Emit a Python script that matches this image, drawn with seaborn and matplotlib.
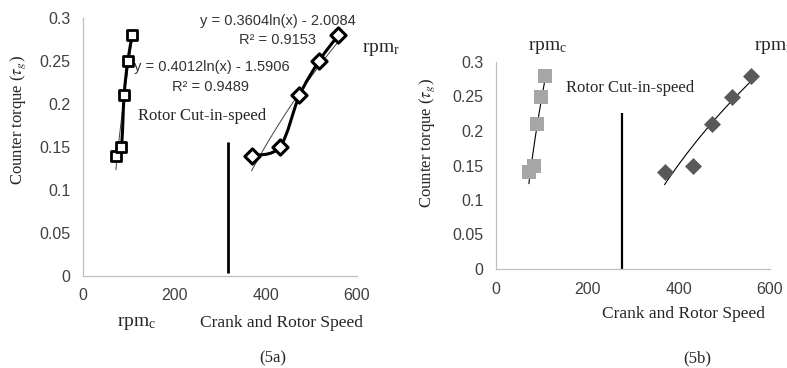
import numpy as np
import matplotlib
matplotlib.use("Agg")
import matplotlib.pyplot as plt
from matplotlib.path import Path
from matplotlib.patches import PathPatch
import seaborn as sns

# values
crank_rpm = [72, 84, 90, 98, 108]
rotor_rpm = [369, 431, 474, 517, 559]
torque = [0.14, 0.15, 0.21, 0.25, 0.28]

cutin_a = 318          # rotor cut-in speed, panel 5a
cutin_a_top = 0.156
cutin_b = 276          # panel 5b
cutin_b_top = 0.226

eq_rotor = "y = 0.3604ln(x) - 2.0084"
r2_rotor = "R² = 0.9153"
eq_crank = "y = 0.4012ln(x) - 1.5906"
r2_crank = "R² = 0.9489"

xticks = [0, 200, 400, 600]
yticks = [0, 0.05, 0.1, 0.15, 0.2, 0.25, 0.3]

sns.set_style("white")
plt.rcParams["font.family"] = ["Liberation Serif", "DejaVu Serif"]
plt.rcParams["mathtext.fontset"] = "stix"

W, H = 787, 368
fig = plt.figure(figsize=(W / 100, H / 100), dpi=100)

def fx(px):
    return px / W

def fy(py):
    return 1 - py / H

ax_a = fig.add_axes([fx(83), fy(276), fx(357 - 83), (276 - 18) / H])
ax_b = fig.add_axes([fx(496), fy(269), fx(770 - 496), (269 - 62) / H])

tick_font = {"family": "Liberation Sans", "size": 11.5, "color": "#404040"}

for ax in (ax_a, ax_b):
    ax.set_xticks(xticks)
    ax.set_yticks(yticks)
    ax.set_xticklabels([str(t) for t in xticks], fontdict=tick_font)
    ax.set_yticklabels([f"{t:g}" for t in yticks], fontdict=tick_font)
    ax.tick_params(direction="out", length=4, width=0.8, color="#bfbfbf", pad=5)
    for s in ["top", "right"]:
        ax.spines[s].set_visible(False)
    for s in ["left", "bottom"]:
        ax.spines[s].set_color("#bfbfbf")
        ax.spines[s].set_linewidth(0.9)


def smooth_path(xs, ys):
    # excel style smoothed connector (catmull-rom as bezier)
    p = np.column_stack([xs, ys]).astype(float)
    ext = np.vstack([p[0], p, p[-1]])
    verts = [p[0]]
    codes = [Path.MOVETO]
    for i in range(1, len(ext) - 2):
        c1 = ext[i] + (ext[i + 1] - ext[i - 1]) / 6
        c2 = ext[i + 1] - (ext[i + 2] - ext[i]) / 6
        verts += [c1, c2, ext[i + 1]]
        codes += [Path.CURVE4] * 3
    return Path(verts, codes)


# ---- panel 5a ----
for xs in (crank_rpm, rotor_rpm):
    sns.regplot(x=xs, y=torque, logx=True, ci=None, scatter=False, ax=ax_a,
                line_kws={"color": "#404040", "lw": 0.7})
    ax_a.add_patch(PathPatch(smooth_path(xs, torque), fill=False,
                             edgecolor="black", lw=2.2, zorder=3))

sns.scatterplot(x=crank_rpm, y=torque, marker="s", s=60, color="white",
                edgecolor="black", linewidth=2, ax=ax_a, zorder=4)
sns.scatterplot(x=rotor_rpm, y=torque, marker="D", s=60, color="white",
                edgecolor="black", linewidth=2.2, ax=ax_a, zorder=4)
ax_a.vlines(cutin_a, 0.004, cutin_a_top, color="black", lw=2)

eq_font = {"family": "Liberation Sans", "size": 10.5, "color": "#333333"}
ax_a.text(427, 0.2965, eq_rotor, ha="center", va="center", fontdict=eq_font)
ax_a.text(427, 0.274, r2_rotor, ha="center", va="center", fontdict=eq_font)
ax_a.text(282, 0.243, eq_crank, ha="center", va="center", fontdict=eq_font)
ax_a.text(280, 0.2198, r2_crank, ha="center", va="center", fontdict=eq_font)
ax_a.text(120, 0.186, "Rotor Cut-in-speed", ha="left", va="center", fontsize=12)

# ---- panel 5b ----
for xs in (crank_rpm, rotor_rpm):
    sns.regplot(x=xs, y=torque, logx=True, ci=None, scatter=False, ax=ax_b,
                line_kws={"color": "black", "lw": 0.8})
sns.scatterplot(x=crank_rpm, y=torque, marker="s", s=100, color="#a6a6a6",
                linewidth=0, ax=ax_b, zorder=2)
sns.scatterplot(x=rotor_rpm, y=torque, marker="D", s=75, color="#595959",
                linewidth=0, ax=ax_b, zorder=2)
ax_b.vlines(cutin_b, 0, cutin_b_top, color="black", lw=1.6)

for ax in (ax_a, ax_b):
    ax.set_xlim(0, 600)
    ax.set_ylim(0, 0.3)
    ax.set_xlabel("")
    ax.set_ylabel("")

# ---- labels ----
ylab = r"Counter torque ($\tau_g$)"
fig.text(fx(18), fy(120), ylab, rotation=90, ha="center", va="center", fontsize=12)
fig.text(fx(427), fy(143), ylab, rotation=90, ha="center", va="center", fontsize=12)

sub = r"rpm$_\mathregular{%s}$"
fig.text(fx(362), fy(49), sub % "r", ha="left", va="center", fontsize=14)
fig.text(fx(137), fy(323), sub % "c", ha="center", va="center", fontsize=14)
fig.text(fx(281), fy(323), "Crank and Rotor Speed", ha="center", va="center", fontsize=12.5)
fig.text(fx(273), fy(358), "(5a)", ha="center", va="center", fontsize=12)

fig.text(fx(548), fy(48), sub % "c", ha="center", va="center", fontsize=14)
fig.text(fx(754), fy(48), sub % "r", ha="left", va="center", fontsize=14)
fig.text(fx(566), fy(88), "Rotor Cut-in-speed", ha="left", va="center", fontsize=12)
fig.text(fx(683), fy(314), "Crank and Rotor Speed", ha="center", va="center", fontsize=12.5)
fig.text(fx(697), fy(358), "(5b)", ha="center", va="center", fontsize=12)

fig.savefig("out.png", dpi=100)
